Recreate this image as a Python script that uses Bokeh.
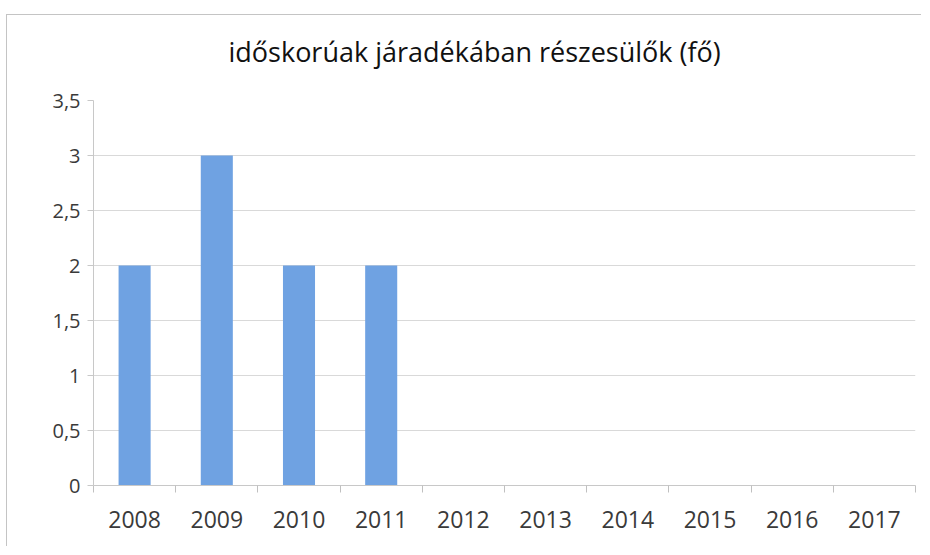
from bokeh.plotting import figure
from bokeh.models import Range1d, FixedTicker, Title
from bokeh.embed import file_html
from bokeh.resources import INLINE

years = ["2008", "2009", "2010", "2011", "2012", "2013", "2014", "2015", "2016", "2017"]
values = [2, 3, 2, 2, 0, 0, 0, 0, 0, 0]
y_ticks = [0, 0.5, 1, 1.5, 2, 2.5, 3, 3.5]
y_labels = ["0", "0,5", "1", "1,5", "2", "2,5", "3", "3,5"]
title_text = "időskorúak járadékában részesülők (fő)"

FONT = "Open Sans"

p = figure(width=915, height=532, output_backend="svg", toolbar_location=None,
           x_range=Range1d(0, len(years)), y_range=Range1d(0, 3.5),
           min_border_left=86, min_border_right=7, min_border_top=85, min_border_bottom=62,
           title=None,
           styles={"margin-top": "14px", "margin-left": "6px",
                   "border-top": "1px solid #c4c4c4", "border-left": "1px solid #c4c4c4"})

xs = [i + 0.5 for i in range(len(years))]
p.vbar(x=xs, top=values, width=0.39, color="#6FA2E2", line_color=None)

spacer = Title(text=" ", text_font_size="12px")
p.add_layout(spacer, "above")
title = Title(text=title_text, align="left", text_font=FONT, text_font_size="27px",
              text_font_style="normal", text_color="#111111", offset=135)
p.add_layout(title, "above")

p.outline_line_color = None
p.background_fill_color = "white"

# x axis
p.xaxis.ticker = FixedTicker(ticks=xs, minor_ticks=list(range(len(years) + 1)))
p.xaxis.major_label_overrides = {x: y for x, y in zip(xs, years)}
p.xaxis.major_tick_line_color = None
p.xaxis.minor_tick_out = 7
p.xaxis.minor_tick_in = 0
p.xaxis.minor_tick_line_color = "#c0c0c0"
p.xaxis.axis_line_color = "#c8c8c8"
p.xaxis.major_label_text_font = FONT
p.xaxis.major_label_text_font_size = "23px"
p.xaxis.major_label_text_color = "#3a3a3a"
p.xaxis.major_label_standoff = 18

# y axis
p.yaxis.ticker = FixedTicker(ticks=y_ticks)
p.yaxis.major_label_overrides = {t: l for t, l in zip(y_ticks, y_labels)}
p.yaxis.axis_line_color = "#c8c8c8"
p.yaxis.major_tick_line_color = "#c8c8c8"
p.yaxis.major_tick_out = 6
p.yaxis.major_tick_in = 0
p.yaxis.minor_tick_line_color = None
p.yaxis.major_label_text_font = FONT
p.yaxis.major_label_text_font_size = "20px"
p.yaxis.major_label_text_color = "#3a3a3a"
p.yaxis.major_label_standoff = 7

p.xgrid.grid_line_color = None
p.ygrid.grid_line_color = "#d9d9d9"

open("out.html", "w").write(file_html(p, INLINE))
